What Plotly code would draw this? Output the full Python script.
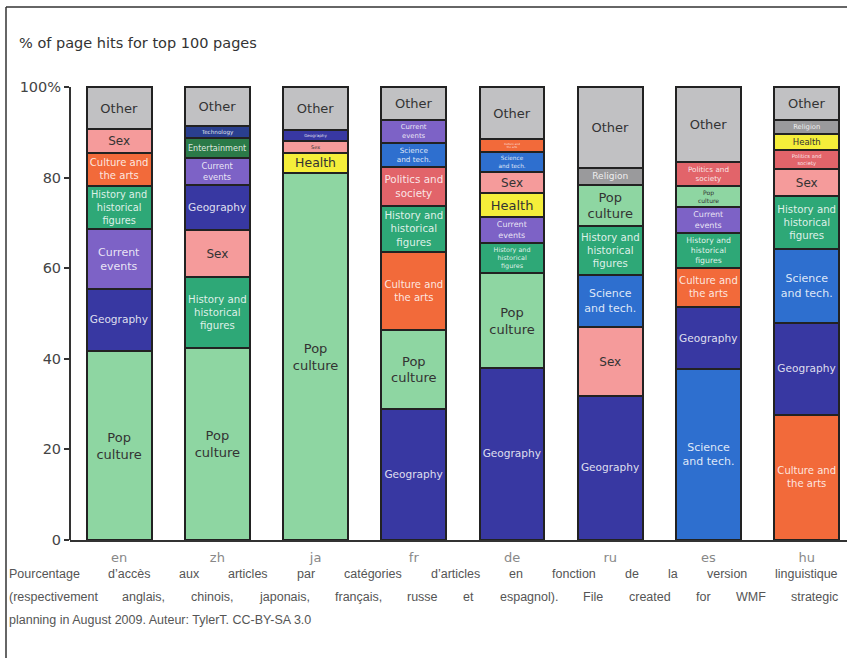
import plotly.graph_objects as go

# ---------------- data ----------------
languages = ["en", "zh", "ja", "fr", "de", "ru", "es", "hu"]

en_cats = ["Pop culture", "Geography", "Current events", "History", "Culture", "Sex", "Other"]
en_vals = [41.7, 13.7, 13.2, 9.5, 7.3, 5.3, 9.3]
zh_cats = ["Pop culture", "History", "Sex", "Geography", "Current events", "Entertainment", "Technology", "Other"]
zh_vals = [42.4, 15.6, 10.4, 10.0, 5.9, 4.4, 2.8, 8.5]
ja_cats = ["Pop culture", "Health", "Sex", "Geography", "Other"]
ja_vals = [81.0, 4.5, 2.6, 2.4, 9.5]
fr_cats = ["Geography", "Pop culture", "Culture", "History", "Politics", "Science", "Current events", "Other"]
fr_vals = [28.9, 17.5, 17.2, 10.1, 8.6, 5.3, 5.1, 7.3]
de_cats = ["Geography", "Pop culture", "History", "Current events", "Health", "Sex", "Science", "Culture", "Other"]
de_vals = [38.0, 20.9, 6.7, 5.7, 5.3, 4.6, 4.5, 2.8, 11.5]
ru_cats = ["Geography", "Sex", "Science", "History", "Pop culture", "Religion", "Other"]
ru_vals = [31.8, 15.2, 11.5, 10.8, 9.1, 3.7, 17.9]
es_cats = ["Science", "Geography", "Culture", "History", "Current events", "Pop culture", "Politics", "Other"]
es_vals = [37.7, 13.7, 8.6, 7.8, 5.7, 4.6, 5.3, 16.6]
hu_cats = ["Culture", "Geography", "Science", "History", "Sex", "Politics", "Health", "Religion", "Other"]
hu_vals = [27.6, 20.3, 16.3, 11.7, 6.0, 4.2, 3.5, 3.1, 7.3]

tick_vals = [0, 20, 40, 60, 80, 100]
tick_text = ["0", "20", "40", "60", "80", "100%"]

title_text = "% of page hits for top 100 pages"
caption_lines = [
    "Pourcentage d’accès aux articles par catégories d’articles en fonction de la version linguistique",
    "(respectivement anglais, chinois, japonais, français, russe et espagnol). File created for WMF strategic",
    "planning in August 2009. Auteur: TylerT. CC-BY-SA 3.0",
]

# ---------------- styles ----------------
COLORS = {
    "Other": "#c1c1c3",
    "Sex": "#f59b9b",
    "Culture": "#f26a3a",
    "History": "#2ea877",
    "Current events": "#7d62c6",
    "Geography": "#3838a2",
    "Pop culture": "#8ed6a2",
    "Health": "#f5ee3a",
    "Science": "#2e6fcf",
    "Politics": "#e2646a",
    "Entertainment": "#2b7a48",
    "Technology": "#2a3f8f",
    "Religion": "#9a9a9c",
}
LABELS = {
    "Other": "Other",
    "Sex": "Sex",
    "Culture": "Culture and<br>the arts",
    "History": "History and<br>historical<br>figures",
    "Current events": "Current<br>events",
    "Geography": "Geography",
    "Pop culture": "Pop<br>culture",
    "Health": "Health",
    "Science": "Science<br>and tech.",
    "Politics": "Politics and<br>society",
    "Entertainment": "Entertainment",
    "Technology": "Technology",
    "Religion": "Religion",
}
DARK_TEXT = {"Other", "Sex", "Pop culture", "Health"}
TEXT_SIZE = {"Other": 13, "Sex": 12, "Pop culture": 13, "Health": 13}

stacks = [(en_cats, en_vals), (zh_cats, zh_vals), (ja_cats, ja_vals), (fr_cats, fr_vals),
          (de_cats, de_vals), (ru_cats, ru_vals), (es_cats, es_vals), (hu_cats, hu_vals)]

# plot-area geometry (pixels)
W, H = 847, 658
PL, PR, PT, PB = 70, 0, 83, 118
PW = W - PL - PR
PH = H - PT - PB


def px_x(px):
    return (px - PL) / PW


def px_y(py):
    return (PT + PH - py) / PH


fig = go.Figure()
nlev = max(len(c) for c, _ in stacks)
for k in range(nlev):
    ys, cols, txt, tcol, tsize = [], [], [], [], []
    for cats, vals in stacks:
        if k < len(cats):
            c = cats[k]
            ys.append(vals[k])
            cols.append(COLORS[c])
            txt.append(LABELS[c])
            tcol.append("#333333" if c in DARK_TEXT else "rgba(255,255,255,0.85)")
            tsize.append(TEXT_SIZE.get(c, 11))
        else:
            ys.append(None)
            cols.append("rgba(0,0,0,0)")
            txt.append("")
            tcol.append("#333333")
            tsize.append(10)
    fig.add_bar(
        x=languages, y=ys,
        marker=dict(color=cols, line=dict(color="#222222", width=2)),
        text=txt, textposition="inside", insidetextanchor="middle", textangle=0,
        constraintext="inside",
        textfont=dict(color=tcol, size=tsize, family="DejaVu Sans"),
        hoverinfo="skip", showlegend=False,
    )

fig.update_layout(
    width=W, height=H,
    margin=dict(l=PL, r=PR, t=PT, b=PB, pad=0),
    paper_bgcolor="white", plot_bgcolor="white",
    barmode="stack", bargap=0.34,
    font=dict(family="DejaVu Sans", color="#444444"),
    xaxis=dict(
        type="category", range=[-0.5, 7.41], showgrid=False, zeroline=False,
        showline=True, linecolor="#333333", linewidth=2, ticks="",
        ticklabelstandoff=4,
        tickfont=dict(size=13, color="#888888"),
    ),
    yaxis=dict(
        range=[0, 100.9], showgrid=False, zeroline=False, showline=False,
        tickvals=tick_vals, ticktext=tick_text, ticks="outside", ticklen=5,
        tickwidth=1.5, tickcolor="#333333", tickfont=dict(size=14.5, color="#444444"),
    ),
)

shapes = [
    # y axis line from 0 to 100
    dict(type="line", xref="paper", yref="y", x0=0, x1=0, y0=0, y1=100,
         line=dict(color="#333333", width=2)),
    # frame: top and left
    dict(type="line", xref="paper", yref="paper", x0=px_x(6), x1=px_x(W + 5),
         y0=px_y(7), y1=px_y(7), line=dict(color="#333333", width=1.5)),
    dict(type="line", xref="paper", yref="paper", x0=px_x(6), x1=px_x(6),
         y0=px_y(7), y1=px_y(H + 5), line=dict(color="#333333", width=1.5)),
]
fig.update_layout(shapes=shapes)

annotations = [
    dict(text=title_text, xref="paper", yref="paper", x=px_x(18), y=px_y(43),
         xanchor="left", yanchor="middle", showarrow=False, borderpad=0,
         font=dict(size=14.5, color="#333333", family="DejaVu Sans")),
]

# caption, justified like the original
AW = {" ": 278, "’": 222, "(": 333, ")": 333, ",": 278, "-": 333, ".": 278, ":": 278,
      "A": 667, "B": 667, "C": 722, "F": 611, "M": 833, "S": 667, "T": 611, "W": 944,
      "a": 556, "b": 556, "c": 500, "d": 556, "e": 556, "f": 278, "g": 556, "h": 556,
      "i": 222, "j": 222, "k": 500, "l": 222, "m": 833, "n": 556, "o": 556, "p": 556,
      "q": 556, "r": 333, "s": 500, "t": 278, "u": 556, "v": 500, "w": 722, "x": 500,
      "y": 500, "z": 500, "è": 556, "é": 556, "à": 556, "ç": 500, "Y": 667, "P": 667}
CAP_SIZE = 12.5
CAP_FONT = "Liberation Sans"


def text_w(s):
    return sum(AW.get(ch, 556) for ch in s) / 1000 * CAP_SIZE


cap_left, cap_right = 8, 839
cap_ys = [574, 597, 620]
for i, line in enumerate(caption_lines):
    if i < 2:
        words = line.split(" ")
        total = sum(text_w(w) for w in words)
        gap = (cap_right - cap_left - total) / (len(words) - 1)
        xpos = cap_left
        for j, w in enumerate(words):
            ww = text_w(w)
            if j == 0:
                xa, xv = "left", xpos
            elif j == len(words) - 1:
                xa, xv = "right", cap_right
            else:
                xa, xv = "center", xpos + ww / 2
            annotations.append(dict(
                text=w, xref="paper", yref="paper", x=px_x(xv), y=px_y(cap_ys[i]),
                xanchor=xa, yanchor="middle", showarrow=False, borderpad=0,
                font=dict(size=CAP_SIZE, color="#555555", family=CAP_FONT)))
            xpos += ww + gap
    else:
        annotations.append(dict(
            text=line, xref="paper", yref="paper", x=px_x(cap_left), y=px_y(cap_ys[i]),
            xanchor="left", yanchor="middle", showarrow=False, borderpad=0,
            font=dict(size=CAP_SIZE, color="#555555", family=CAP_FONT)))

fig.update_layout(annotations=annotations)
fig.write_html(
    "out.html",
    config={"displayModeBar": False},
    post_script="document.body.style.margin='0';document.body.style.overflow='hidden';",
)
